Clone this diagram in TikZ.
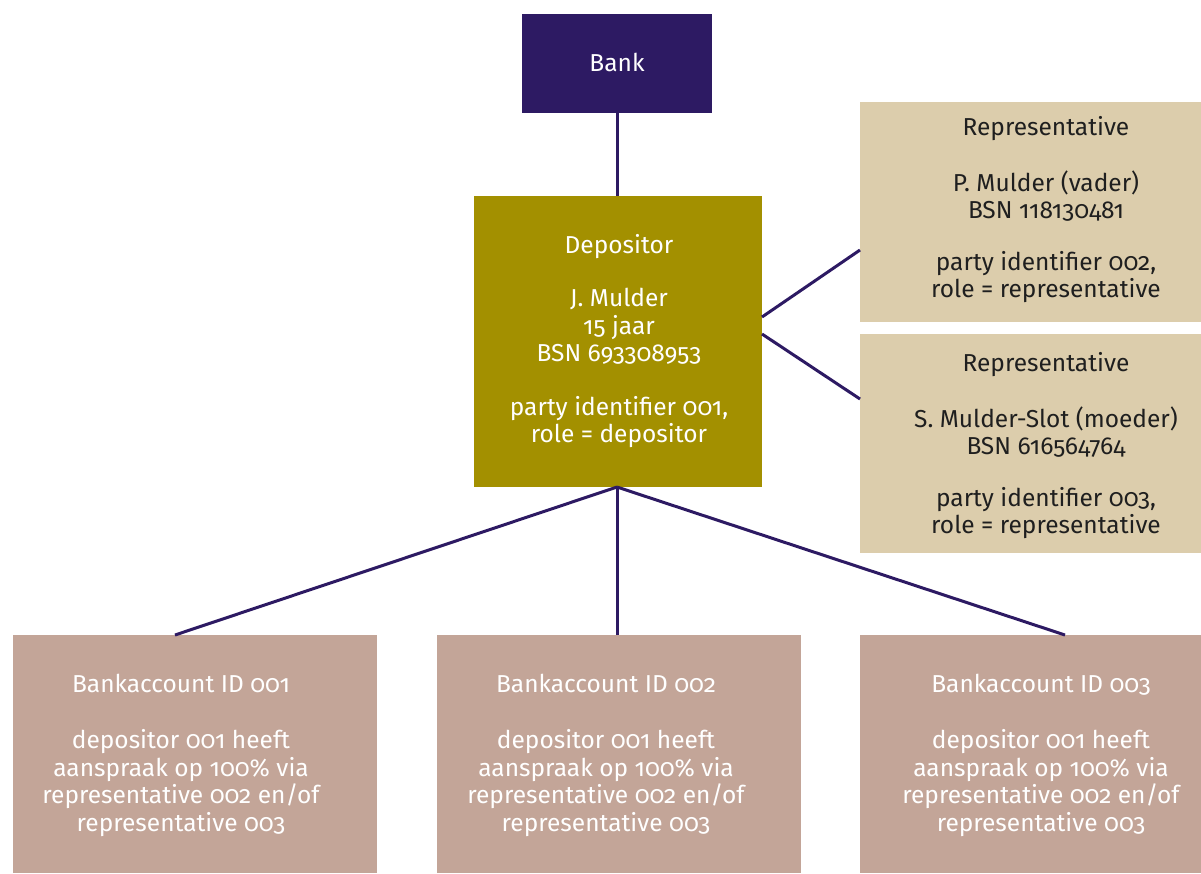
\documentclass[tikz,border=0pt]{standalone}
\usepackage{fontspec}
\setmainfont[Numbers=OldStyle]{Fira Sans}
\definecolor{bankpurple}{HTML}{2D1A63}
\definecolor{depolive}{HTML}{A39000}
\definecolor{reptan}{HTML}{DCCDAC}
\definecolor{accrose}{HTML}{C3A598}
\tikzset{
  box/.style={inner sep=0pt, outer sep=0pt, anchor=north west},
  txt/.style={align=center, inner sep=0pt, font=\fontsize{24.5}{27.5}\selectfont},
  link/.style={draw=bankpurple, line width=3pt}
}
\begin{document}
\begin{tikzpicture}[x=1pt, y=-1pt]
\useasboundingbox (0,0) rectangle (1201,873);

% boxes
\node[box, fill=bankpurple, minimum width=190pt, minimum height=99pt] (bank) at (522,14) {};
\node[box, fill=depolive, minimum width=288pt, minimum height=291pt] (dep) at (474,196) {};
\node[box, fill=reptan, minimum width=341pt, minimum height=220pt] (rep1) at (860,102) {};
\node[box, fill=reptan, minimum width=341pt, minimum height=219pt] (rep2) at (860,334) {};
\node[box, fill=accrose, minimum width=364pt, minimum height=238pt] (acc1) at (13,635) {};
\node[box, fill=accrose, minimum width=364pt, minimum height=238pt] (acc2) at (437,635) {};
\node[box, fill=accrose, minimum width=341pt, minimum height=238pt] (acc3) at (860,635) {};

% connector end points on the box edges
\coordinate (depR1) at (762,317);
\coordinate (depR2) at (762,334);
\coordinate (rep1L) at (860,250);
\coordinate (rep2L) at (860,399);
\coordinate (acc1T) at (175,635);
\coordinate (acc2T) at (617,635);
\coordinate (acc3T) at (1065,635);
\coordinate (depB) at (617,487);
\coordinate (bankB) at (617,113);
\coordinate (depT) at (617,196);

% connectors
\draw[link] (bankB) -- (depT);
\draw[link] (depR1) -- (rep1L);
\draw[link] (depR2) -- (rep2L);
\draw[link] (depB) -- (acc1T);
\draw[link] (depB) -- (acc2T);
\draw[link] (depB) -- (acc3T);

% labels
\node[txt, text=white] (banktxt) at (617,62) {Bank};
\node[txt, text=white] (deptxt) at (619,341)
  {Depositor\\[26pt]J. Mulder\\15 jaar\\BSN 693308953\\[26pt]party identifier 001,\\role = depositor};
\node[txt, text=black!88] (rep1txt) at (1046,210)
  {Representative\\[28pt]P. Mulder (vader)\\BSN 118130481\\[24pt]party identifier 002,\\role = representative};
\node[txt, text=black!88] (rep2txt) at (1046,446)
  {Representative\\[28pt]S. Mulder-Slot (moeder)\\BSN 616564764\\[24pt]party identifier 003,\\role = representative};
\node[txt, text=white] (acc1txt) at (181,755)
  {Bankaccount ID 001\\[29pt]depositor 001 heeft\\aanspraak op 100\% via\\representative 002 en/of\\representative 003};
\node[txt, text=white] (acc2txt) at (606,755)
  {Bankaccount ID 002\\[29pt]depositor 001 heeft\\aanspraak op 100\% via\\representative 002 en/of\\representative 003};
\node[txt, text=white] (acc3txt) at (1041,755)
  {Bankaccount ID 003\\[29pt]depositor 001 heeft\\aanspraak op 100\% via\\representative 002 en/of\\representative 003};
\end{tikzpicture}
\end{document}
